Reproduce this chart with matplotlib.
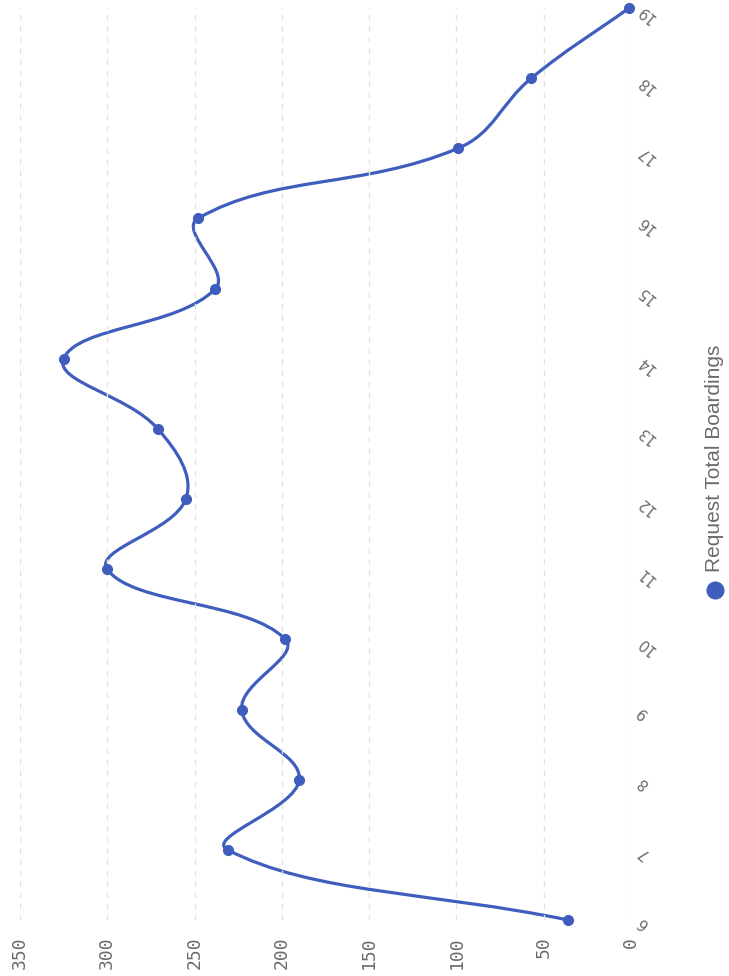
import numpy as np
import matplotlib.pyplot as plt
from matplotlib.path import Path
from matplotlib.patches import PathPatch
from matplotlib.lines import Line2D

stops = [6, 7, 8, 9, 10, 11, 12, 13, 14, 15, 16, 17, 18, 19]
boardings = [36, 231, 190, 223, 198, 300, 255, 271, 325, 238, 248, 99, 57, 1]
value_ticks = [0, 50, 100, 150, 200, 250, 300, 350]
series_name = 'Request Total Boardings'

line_color = '#3f5dbd'
text_color = '#6b6b6b'

fig = plt.figure(figsize=(7.29, 9.76), dpi=100)
ax = fig.add_axes([0.0274, 0.0574, 0.838, 0.9344])

x = np.array(boardings, dtype=float)
y = np.array(stops, dtype=float)

# Chart.js style spline (tension 0.4), control points worked out in pixel space
sx, sy = 1.746, 70.2
P = np.column_stack([x * sx, y * sy])
n = len(P)
tension = 0.4
cp_in = np.zeros_like(P)
cp_out = np.zeros_like(P)
for i in range(n):
    prev = P[i - 1] if i > 0 else P[i]
    nxt = P[i + 1] if i < n - 1 else P[i]
    d01 = np.hypot(*(P[i] - prev))
    d12 = np.hypot(*(nxt - P[i]))
    tot = d01 + d12
    s01 = d01 / tot if tot else 0
    s12 = d12 / tot if tot else 0
    cp_in[i] = P[i] - tension * s01 * (nxt - prev)
    cp_out[i] = P[i] + tension * s12 * (nxt - prev)

verts = [P[0]]
codes = [Path.MOVETO]
for i in range(n - 1):
    verts += [cp_out[i], cp_in[i + 1], P[i + 1]]
    codes += [Path.CURVE4] * 3
verts = np.array(verts) / [sx, sy]
ax.add_patch(PathPatch(Path(verts, codes), facecolor='none', edgecolor=line_color,
                       lw=2.3, capstyle='round', joinstyle='round', clip_on=False))
ax.plot(x, y, 'o', color=line_color, ms=7, clip_on=False, zorder=3)

ax.set_xlim(350, 0)
ax.set_ylim(6, 19)
ax.set_xticks(value_ticks)
ax.set_xticklabels([str(v) for v in value_ticks])
ax.set_yticks(stops)
ax.set_yticklabels([str(s) for s in stops])
ax.yaxis.tick_right()

for s in ax.spines.values():
    s.set_visible(False)
ax.grid(axis='x', color='#e3e3e3', lw=1, ls=(0, (4, 4)))
ax.grid(axis='y', visible=False)
ax.tick_params(axis='x', length=0, pad=12, labelsize=13, labelcolor=text_color,
               labelrotation=90)
ax.tick_params(axis='y', length=0, pad=6, labelsize=10.5, labelcolor=text_color,
               labelrotation=140)
for lbl in ax.get_xticklabels():
    lbl.set_fontfamily('DejaVu Sans Mono')
    lbl.set_va('top')
for lbl in ax.get_yticklabels():
    lbl.set_rotation_mode('anchor')
    lbl.set_ha('right')
    lbl.set_va('center')

# legend, rotated like the rest of the chart
fig.add_artist(Line2D([715 / 729], [1 - 590 / 976], marker='o', ms=12, color=line_color,
                      transform=fig.transFigure))
fig.text(715 / 729, 1 - 572 / 976, series_name, rotation=90, ha='center', va='bottom',
         fontsize=15, color=text_color, family='Liberation Sans')

fig.savefig('out.png', dpi=100)
